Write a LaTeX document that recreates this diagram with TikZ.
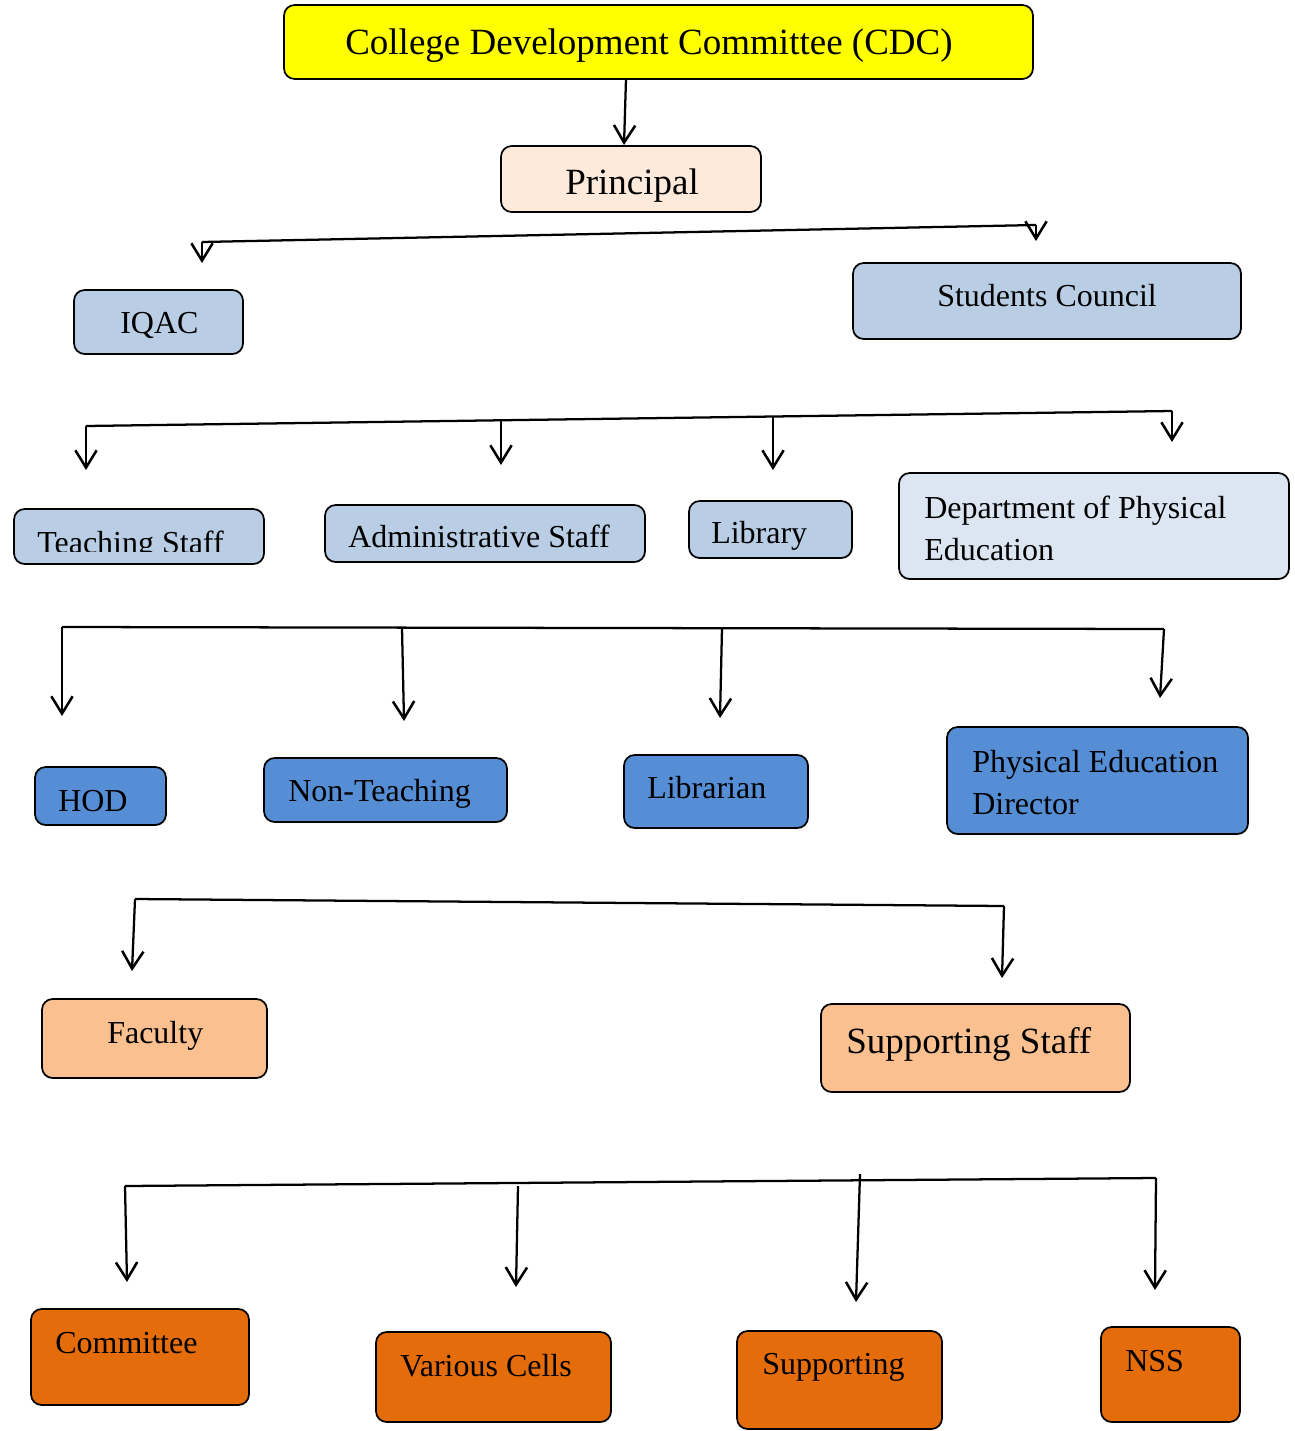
\documentclass[tikz,border=0pt]{standalone}
\usepackage{fontspec}
\setmainfont{Liberation Serif}
\usetikzlibrary{arrows.meta,fit}
\definecolor{cdcyellow}{HTML}{FFFF00}
\definecolor{peach}{HTML}{FDEADA}
\definecolor{lblue}{HTML}{B9CDE5}
\definecolor{llblue}{HTML}{DCE6F2}
\definecolor{mblue}{HTML}{558ED5}
\definecolor{lorange}{HTML}{FAC090}
\definecolor{dorange}{HTML}{E46C0A}
\tikzset{
  box/.style={draw=black, line width=1.3pt, rounded corners=8pt, inner sep=0pt},
  lbl/.style={inner sep=0pt, anchor=base west, font=\fontsize{24}{29}\selectfont},
  biglbl/.style={inner sep=0pt, anchor=base west, font=\fontsize{27.75}{33}\selectfont},
  bar/.style={line width=1.7pt},
  arr/.style={line width=1.7pt, -{Straight Barb[length=13pt,width=16pt,line width=1.9pt]}}
}
\begin{document}
\begin{tikzpicture}[x=0.75pt,y=-0.75pt]
\useasboundingbox (0,0) rectangle (1295,1431);
% boxes
\node[box, fill=cdcyellow, fit={(284,5) (1033,79)}] (cdc) {};
\node[box, fill=peach, fit={(501,146) (761,212)}] (principal) {};
\node[box, fill=lblue, fit={(74,290) (243,354)}] (iqac) {};
\node[box, fill=lblue, fit={(853,263) (1241,339)}] (council) {};
\node[box, fill=lblue, fit={(14,509) (264,564)}] (teaching) {};
\node[box, fill=lblue, fit={(325,505) (645,562)}] (admin) {};
\node[box, fill=lblue, fit={(689,501) (852,558)}] (library) {};
\node[box, fill=llblue, fit={(899,473) (1289,579)}] (dpe) {};
\node[box, fill=mblue, fit={(35,767) (166,825)}] (hod) {};
\node[box, fill=mblue, fit={(264,758) (507,822)}] (nonteach) {};
\node[box, fill=mblue, fit={(624,755) (808,828)}] (librarian) {};
\node[box, fill=mblue, fit={(947,727) (1248,834)}] (ped) {};
\node[box, fill=lorange, fit={(42,999) (267,1078)}] (faculty) {};
\node[box, fill=lorange, fit={(821,1004) (1130,1092)}] (supstaff) {};
\node[box, fill=dorange, fit={(31,1309) (249,1405)}] (committee) {};
\node[box, fill=dorange, fit={(376,1332) (611,1422)}] (cells) {};
\node[box, fill=dorange, fit={(737,1331) (942,1429)}] (supporting) {};
\node[box, fill=dorange, fit={(1101,1327) (1240,1422)}] (nss) {};
% labels
\node[biglbl] (t-cdc) at (345,54) {College Development Committee (CDC)};
\node[biglbl] (t-principal) at (565,194) {Principal};
\node[lbl] (t-iqac) at (120,333) {IQAC};
\node[lbl] (t-council) at (937,306) {Students Council};
\begin{scope}
\clip (14,509) rectangle (264,551);
\node[lbl] (t-teaching) at (37,553) {Teaching Staff};
\end{scope}
\node[lbl] (t-admin) at (348,547) {Administrative Staff};
\node[lbl] (t-library) at (711,543) {Library};
\node[lbl] (t-dpe1) at (924,518) {Department of Physical};
\node[lbl] (t-dpe2) at (924,560) {Education};
\node[lbl] (t-hod) at (58,811) {HOD};
\node[lbl] (t-nonteach) at (288,801) {Non-Teaching};
\node[lbl] (t-librarian) at (647,798) {Librarian};
\node[lbl] (t-ped1) at (972,772) {Physical Education};
\node[lbl] (t-ped2) at (972,814) {Director};
\node[lbl] (t-faculty) at (107,1043) {Faculty};
\node[biglbl] (t-supstaff) at (846,1053) {Supporting Staff};
\node[lbl] (t-committee) at (55,1353) {Committee};
\node[lbl] (t-cells) at (400,1376) {Various Cells};
\node[lbl] (t-supporting) at (762,1374) {Supporting};
\node[lbl] (t-nss) at (1125,1371) {NSS};
% connector coordinates
\coordinate (c0a) at (626,79);
\coordinate (c0b) at (624,145);
\coordinate (b1l) at (202,242);
\coordinate (b1r) at (1036,225);
\coordinate (b1le) at (202,263);
\coordinate (b1re) at (1036,241);
\coordinate (b2l) at (86,426);
\coordinate (b2r) at (1172,411);
\coordinate (b2a) at (501,419);
\coordinate (b2b) at (773,416);
\coordinate (b2le) at (86,470);
\coordinate (b2ae) at (501,465);
\coordinate (b2be) at (773,470);
\coordinate (b2re) at (1172,442);
\coordinate (b3l) at (62,627);
\coordinate (b3r) at (1164,629);
\coordinate (b3a) at (402,628);
\coordinate (b3b) at (722,628);
\coordinate (b3le) at (62,716);
\coordinate (b3ae) at (404,721);
\coordinate (b3be) at (720,718);
\coordinate (b3re) at (1160,698);
\coordinate (b4l) at (135,899);
\coordinate (b4r) at (1004,906);
\coordinate (b4le) at (132,971);
\coordinate (b4re) at (1002,978);
\coordinate (b5l) at (125,1186);
\coordinate (b5r) at (1156,1178);
\coordinate (b5a) at (518,1186);
\coordinate (b5b) at (860,1174);
\coordinate (b5le) at (127,1282);
\coordinate (b5ae) at (516,1287);
\coordinate (b5be) at (856,1302);
\coordinate (b5re) at (1155,1290);
% connectors
\draw[arr] (c0a) -- (c0b);
\draw[bar] (b1l) -- (b1r);
\draw[arr] (b1l) -- (b1le);
\draw[arr] (b1r) -- (b1re);
\draw[bar] (b2l) -- (b2r);
\draw[arr] (b2l) -- (b2le);
\draw[arr] (b2a) -- (b2ae);
\draw[arr] (b2b) -- (b2be);
\draw[arr] (b2r) -- (b2re);
\draw[bar] (b3l) -- (b3r);
\draw[arr] (b3l) -- (b3le);
\draw[arr] (b3a) -- (b3ae);
\draw[arr] (b3b) -- (b3be);
\draw[arr] (b3r) -- (b3re);
\draw[bar] (b4l) -- (b4r);
\draw[arr] (b4l) -- (b4le);
\draw[arr] (b4r) -- (b4re);
\draw[bar] (b5l) -- (b5r);
\draw[arr] (b5l) -- (b5le);
\draw[arr] (b5a) -- (b5ae);
\draw[arr] (b5b) -- (b5be);
\draw[arr] (b5r) -- (b5re);
\end{tikzpicture}
\end{document}
